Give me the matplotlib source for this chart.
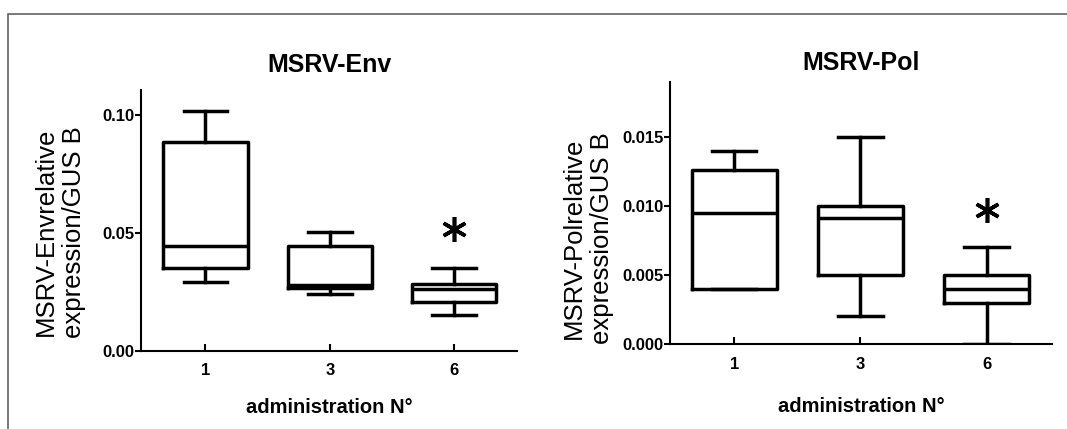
import matplotlib
matplotlib.use("Agg")
import matplotlib.pyplot as plt
from matplotlib.patches import Rectangle

plt.rcParams['font.family'] = ['Liberation Sans', 'DejaVu Sans']

# administration number (categories)
categories = ['1', '3', '6']

# MSRV-Env box statistics
env_whislo = [0.0294, 0.0240, 0.0153]
env_q1 = [0.0352, 0.0265, 0.0207]
env_med = [0.0447, 0.0279, 0.0262]
env_q3 = [0.0888, 0.0447, 0.0284]
env_whishi = [0.1019, 0.0505, 0.0352]
env_star = [None, None, 0.0517]

# MSRV-Pol box statistics
pol_whislo = [0.0040, 0.0020, 0.0000]
pol_q1 = [0.0040, 0.0050, 0.0030]
pol_med = [0.0095, 0.0091, 0.0040]
pol_q3 = [0.0126, 0.0100, 0.0050]
pol_whishi = [0.0140, 0.0150, 0.0070]
pol_star = [None, None, 0.0097]

env_ticks = [0.00, 0.05, 0.10]
env_ticklabels = ['0.00', '0.05', '0.10']
pol_ticks = [0.000, 0.005, 0.010, 0.015]
pol_ticklabels = ['0.000', '0.005', '0.010', '0.015']


def make_stats(lo, q1, med, q3, hi):
    stats = []
    for i in range(len(lo)):
        stats.append({'whislo': lo[i], 'q1': q1[i], 'med': med[i],
                      'q3': q3[i], 'whishi': hi[i], 'fliers': []})
    return stats


def draw_panel(ax, stats, stars, title, ylabel, ticks, ticklabels, ylim, xlim,
               title_pad, ylab_xy, xlab_y):
    pos = list(range(len(categories)))
    lw = 2.5
    ax.bxp(stats, positions=pos, widths=0.68, capwidths=0.35, showfliers=False,
           boxprops=dict(color='black', linewidth=lw),
           medianprops=dict(color='black', linewidth=lw),
           whiskerprops=dict(color='black', linewidth=lw),
           capprops=dict(color='black', linewidth=lw),
           manage_ticks=False)
    for p, s in zip(pos, stars):
        if s is not None:
            ax.plot(p, s, marker=(6, 2, 0), ms=18, mew=2.6, color='black',
                    linestyle='none', clip_on=False)
    ax.set_xlim(*xlim)
    ax.set_ylim(*ylim)
    for side in ['top', 'right']:
        ax.spines[side].set_visible(False)
    for side in ['left', 'bottom']:
        ax.spines[side].set_linewidth(1.5)
    ax.set_xticks(pos)
    ax.set_xticklabels(categories, fontsize=12, fontweight='bold')
    ax.set_yticks(ticks)
    ax.set_yticklabels(ticklabels, fontsize=12, fontweight='bold')
    ax.tick_params(axis='x', direction='in', length=5, width=1.5, pad=9)
    ax.tick_params(axis='y', direction='out', length=4, width=1.5, pad=0.5)
    ax.set_title(title, fontsize=18, fontweight='bold', pad=title_pad)
    ax.set_ylabel(ylabel, fontsize=18.5, va='center', linespacing=1.25)
    ax.yaxis.set_label_coords(*ylab_xy)
    ax.set_xlabel('administration N°', fontsize=14.5, fontweight='bold',
                  va='center')
    ax.xaxis.set_label_coords(0.5, xlab_y)
    for sp in ax.spines.values():
        sp.set_clip_on(False)


fig = plt.figure(figsize=(10.67, 4.29), dpi=100)
ax1 = fig.add_axes([0.132, 0.182, 0.353, 0.608])
ax2 = fig.add_axes([0.628, 0.198, 0.358, 0.612])

draw_panel(ax1, make_stats(env_whislo, env_q1, env_med, env_q3, env_whishi),
           env_star, 'MSRV-Env', 'MSRV-Envrelative\nexpression/GUS B',
           env_ticks, env_ticklabels, (0, 0.1106), (-0.52, 2.51),
           13, (-0.215, 0.456), -0.218)
draw_panel(ax2, make_stats(pol_whislo, pol_q1, pol_med, pol_q3, pol_whishi),
           pol_star, 'MSRV-Pol', 'MSRV-Polrelative\nexpression/GUS B',
           pol_ticks, pol_ticklabels, (0, 0.0190), (-0.51, 2.52),
           8.5, (-0.215, 0.404), -0.236)

# outer frame (only top and left edges visible in the source)
fig.patches.append(Rectangle((8 / 1067, -0.1), 1.2, 0.1 + (1 - 14 / 429),
                             transform=fig.transFigure, fill=False,
                             edgecolor='#555555', linewidth=1.1))

fig.savefig('out.png', dpi=100)
